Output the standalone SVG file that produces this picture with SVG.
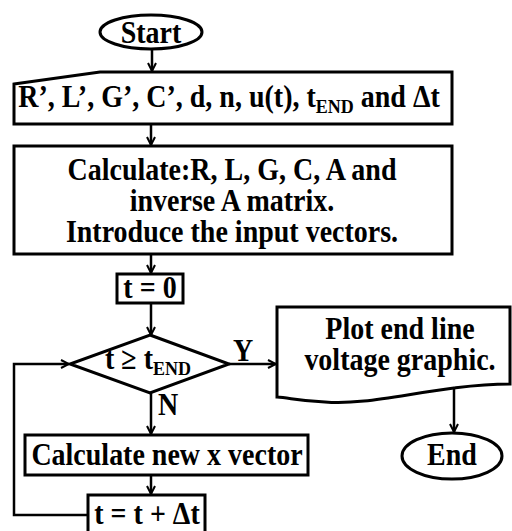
<svg xmlns="http://www.w3.org/2000/svg" width="512" height="531" viewBox="0 0 512 531">
<defs>
<marker id="ah" viewBox="0 0 10 10" refX="9" refY="5" markerWidth="10" markerHeight="10" markerUnits="userSpaceOnUse" orient="auto">
<path d="M1,1 L9,5 L1,9" fill="none" stroke="#000" stroke-width="2"/>
</marker>
<style>
.s{fill:#fff;stroke:#000;stroke-width:3}
.c{fill:none;stroke:#000;stroke-width:2.5}
.t{font-family:"Liberation Serif","Times New Roman",serif;font-weight:bold;font-size:28px;fill:#000;text-anchor:middle}
.sub{font-size:18px}
</style>
</defs>
<rect width="512" height="531" fill="#fff"/>
<g id="connectors">
<line class="c" x1="152" y1="49" x2="152" y2="71" marker-end="url(#ah)"/>
<line class="c" x1="151" y1="125" x2="151" y2="145" marker-end="url(#ah)"/>
<line class="c" x1="151" y1="254" x2="151" y2="273" marker-end="url(#ah)"/>
<line class="c" x1="151" y1="303" x2="151" y2="335" marker-end="url(#ah)"/>
<line class="c" x1="229" y1="364" x2="276" y2="364" marker-end="url(#ah)"/>
<line class="c" x1="151" y1="393" x2="151" y2="434" marker-end="url(#ah)"/>
<line class="c" x1="151" y1="475" x2="151" y2="494" marker-end="url(#ah)"/>
<line class="c" x1="454" y1="388" x2="454" y2="432" marker-end="url(#ah)"/>
<polyline class="c" points="88,515 14,515 14,364 69,364" marker-end="url(#ah)"/>
<g transform="translate(243,361) scale(1,1.1)"><text class="t">Y</text></g>
<g transform="translate(168,415) scale(1,1.1)"><text class="t">N</text></g>
</g>
<g id="start">
<ellipse class="s" cx="151" cy="32" rx="51" ry="17"/>
<g transform="translate(151,43) scale(1,1.1)"><text class="t">Start</text></g>
</g>
<g id="input">
<path class="s" d="M14,84 L100,72 L452,72 L452,124 L14,124 Z"/>
<g transform="translate(229,107) scale(1,1.1)"><text class="t">R’, L’, G’, C’, d, n, u(t), t<tspan class="sub" dy="5">END</tspan><tspan dy="-5"> and Δt</tspan></text></g>
</g>
<g id="calc">
<rect class="s" x="14" y="146" width="438" height="108"/>
<g transform="translate(232,180) scale(1,1.1)"><text class="t">Calculate:R, L, G, C, A and</text></g>
<g transform="translate(232,211) scale(1,1.1)"><text class="t">inverse A matrix.</text></g>
<g transform="translate(232,242) scale(1,1.1)"><text class="t">Introduce the input vectors.</text></g>
</g>
<g id="t0">
<rect class="s" x="117" y="274" width="66" height="29"/>
<g transform="translate(150,298) scale(1,1.1)"><text class="t">t = 0</text></g>
</g>
<g id="decision">
<path class="s" d="M150,335 L229,364 L150,393 L70,364 Z"/>
<g transform="translate(148,369) scale(1,1.1)"><text class="t">t ≥ t<tspan class="sub" dy="5">END</tspan></text></g>
</g>
<g id="plot">
<path class="s" d="M277,307 L510,307 L510,384 C485,384 470,386 454,388 C400,395 360,405 325,402 C300,401 290,398 277,397 Z"/>
<g transform="translate(400,339) scale(1,1.1)"><text class="t">Plot end line</text></g>
<g transform="translate(400,370) scale(1,1.1)"><text class="t">voltage graphic.</text></g>
</g>
<g id="newx">
<rect class="s" x="25" y="435" width="283" height="40"/>
<g transform="translate(167,465) scale(1,1.1)"><text class="t">Calculate new x vector</text></g>
</g>
<g id="end">
<ellipse class="s" cx="452" cy="456" rx="50" ry="23"/>
<g transform="translate(452,465) scale(1,1.1)"><text class="t">End</text></g>
</g>
<g id="incr">
<rect class="s" x="88" y="495" width="117" height="40"/>
<g transform="translate(147,524) scale(1,1.1)"><text class="t">t = t + Δt</text></g>
</g>
</svg>
